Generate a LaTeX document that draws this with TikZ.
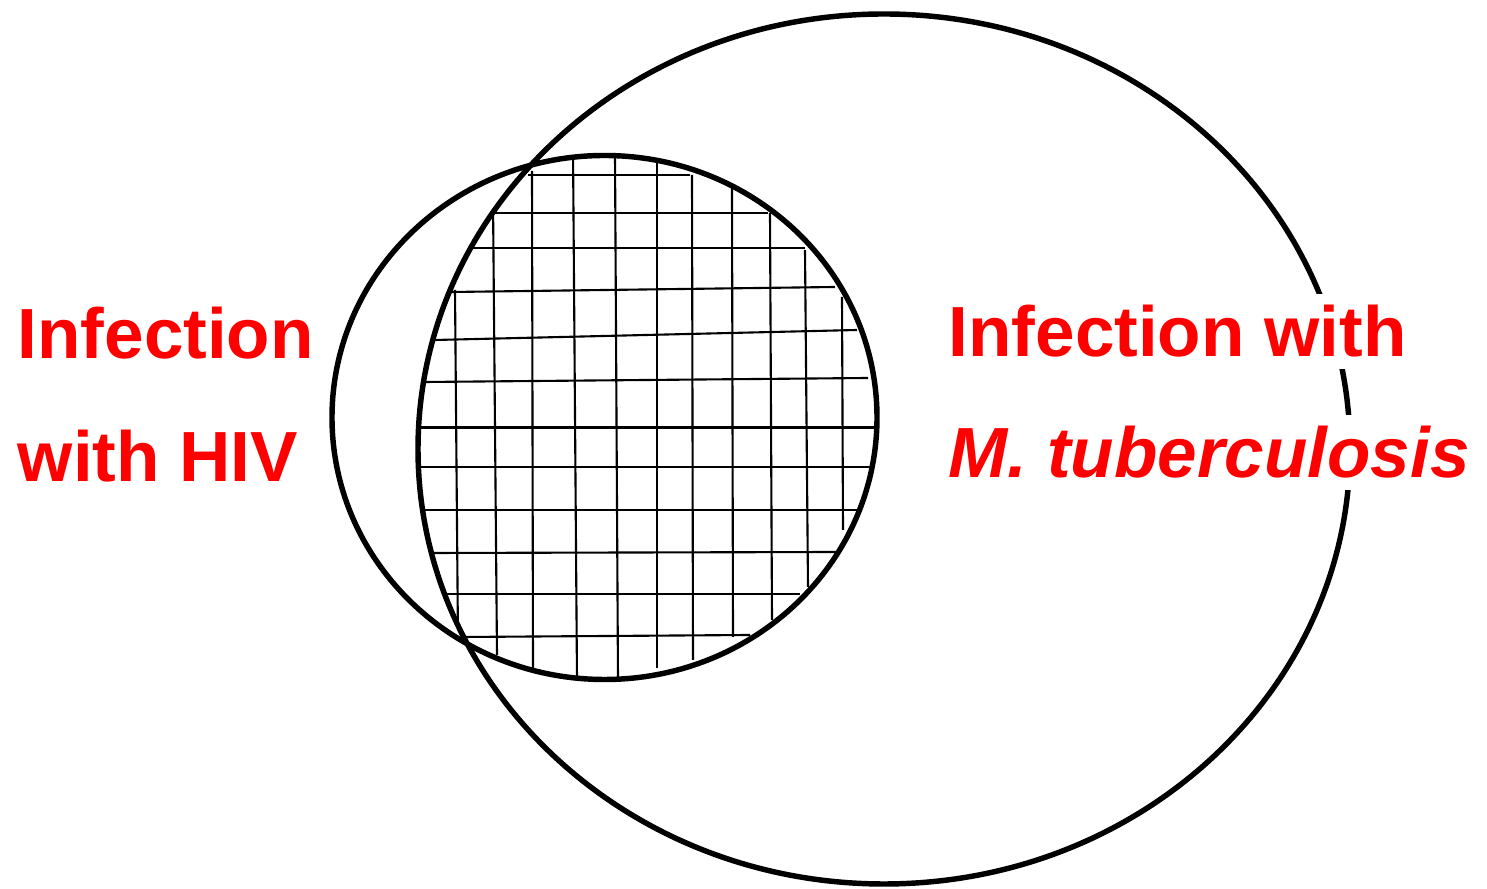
\documentclass[tikz,border=0pt]{standalone}
\usepackage{fontspec}
\setmainfont{Liberation Sans}
\begin{document}
\begin{tikzpicture}[x=0.01cm,y=-0.01cm,
  ring/.style={line width=1.55pt},
  gridline/.style={line width=0.6pt},
  lbl/.style={font=\fontsize{20.2pt}{24pt}\selectfont\bfseries, text=red, fill=white,
    inner xsep=2pt, inner ysep=0pt, text height=18pt, text depth=3.5pt, anchor=base west}]
\useasboundingbox[fill=white] (0,0) rectangle (1487,889);
% cross-hatched overlap
\begin{scope}
  \clip (884,449) ellipse [x radius=466, y radius=435];
  \clip (604.5,417.5) ellipse [x radius=272.5, y radius=262];
  \foreach \xa/\ya/\xb/\yb in {528/175/690/175, 493/213/768/213, 473/248/805/248,
      452/292/835/287, 435/340/857/330, 425/382/868/378, 416/427.5/879/427.5,
      418/467/872/467, 425/510/857/510, 431/553/839/552, 445/594/800/594, 463/637/750/635}
    \draw[gridline] (\xa,\ya) -- (\xb,\yb);
  \foreach \xa/\ya/\xb/\yb in {455/290/458/642, 493/200/497/655, 532/171/533/670,
      573/148/577/680, 615/155/618/680, 657/160/657/668, 692/175/693/660,
      732/188/733/637, 770/213/772/620, 805/250/808/587, 842/297/843/530}
    \draw[gridline] (\xa,\ya) -- (\xb,\yb);
\end{scope}
% circles
\node[draw=none, inner sep=0, minimum size=0] (mtbc) at (884,449) {};
\node[draw=none, inner sep=0, minimum size=0] (hivc) at (604.5,417.5) {};
\draw[ring] (mtbc) ellipse [x radius=466, y radius=435];
\draw[ring] (hivc) ellipse [x radius=272.5, y radius=262];
% labels
\node[lbl] (hiv1) at (10,359) {Infection};
\node[lbl] (hiv2) at (10,482) {with HIV};
\node[lbl] (tb1) at (941,357) {Infection with};
\node[lbl] (tb2) at (941,478) {\itshape M. tuberculosis};
\end{tikzpicture}
\end{document}
